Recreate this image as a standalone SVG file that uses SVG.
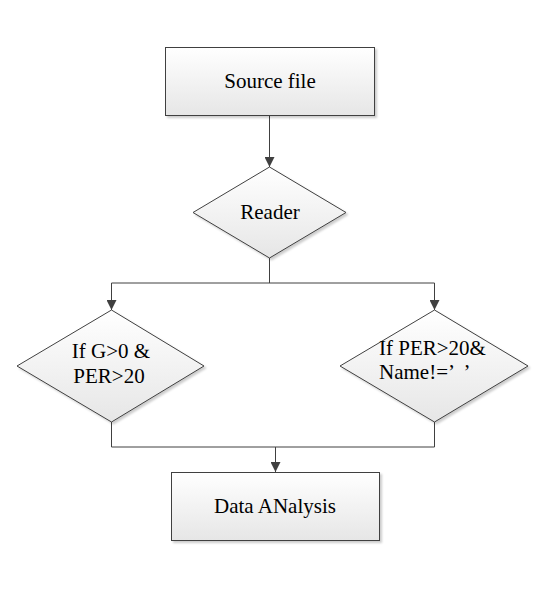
<svg xmlns="http://www.w3.org/2000/svg" width="548" height="602" viewBox="0 0 548 602">
<defs>
<linearGradient id="g" x1="0" y1="0" x2="0" y2="1">
<stop offset="0" stop-color="#ffffff"/>
<stop offset="1" stop-color="#e6e6e6"/>
</linearGradient>
<marker id="a" viewBox="0 0 10 10" refX="10" refY="5" markerWidth="10" markerHeight="10" markerUnits="userSpaceOnUse" orient="auto">
<path d="M0,0 L10,5 L0,10 z" fill="#404040"/>
</marker>
<filter id="s" x="-10%" y="-10%" width="130%" height="130%">
<feDropShadow dx="2" dy="2" stdDeviation="1.2" flood-color="#000" flood-opacity="0.2"/>
</filter>
</defs>
<style>
.n{fill:url(#g);stroke:#404040;stroke-width:1;filter:url(#s)}
.c{fill:none;stroke:#404040;stroke-width:1}
.t{font-family:'Liberation Serif','Times New Roman',serif;font-size:21px;fill:#000}
</style>
<rect width="548" height="602" fill="#fff"/>
<g id="connectors">
<path class="c" d="M269.5,115 V167" marker-end="url(#a)"/>
<path class="c" d="M269.5,258 V283 M111.5,283 H434.5"/>
<path class="c" d="M111.5,283 V310" marker-end="url(#a)"/>
<path class="c" d="M434.5,283 V310" marker-end="url(#a)"/>
<path class="c" d="M111.5,422 V447 H434.5 V422"/>
<path class="c" d="M275.5,447 V472" marker-end="url(#a)"/>
</g>
<g id="source">
<rect class="n" x="165.5" y="47.5" width="209" height="68"/>
<text class="t" x="270" y="88" text-anchor="middle">Source file</text>
</g>
<g id="reader">
<polygon class="n" points="269.5,167 346,212.5 269.5,258 193,212.5"/>
<text class="t" x="270" y="219" text-anchor="middle">Reader</text>
</g>
<g id="cond1">
<polygon class="n" points="111.5,310 204,366 111.5,422 17,366"/>
<text class="t" x="111" y="358" text-anchor="middle">If G&gt;0 &amp;</text>
<text class="t" x="109" y="383" text-anchor="middle">PER&gt;20</text>
</g>
<g id="cond2">
<polygon class="n" points="434.5,310 528,366 434.5,422 340,366"/>
<text class="t" x="379" y="355" font-size="20">If PER&gt;20&amp;</text>
<text class="t" x="379" y="379" font-size="20">Name!=’<tspan dx="10">’</tspan></text>
</g>
<g id="analysis">
<rect class="n" x="171.5" y="472.5" width="208" height="68"/>
<text class="t" x="275" y="513" text-anchor="middle">Data ANalysis</text>
</g>
</svg>
